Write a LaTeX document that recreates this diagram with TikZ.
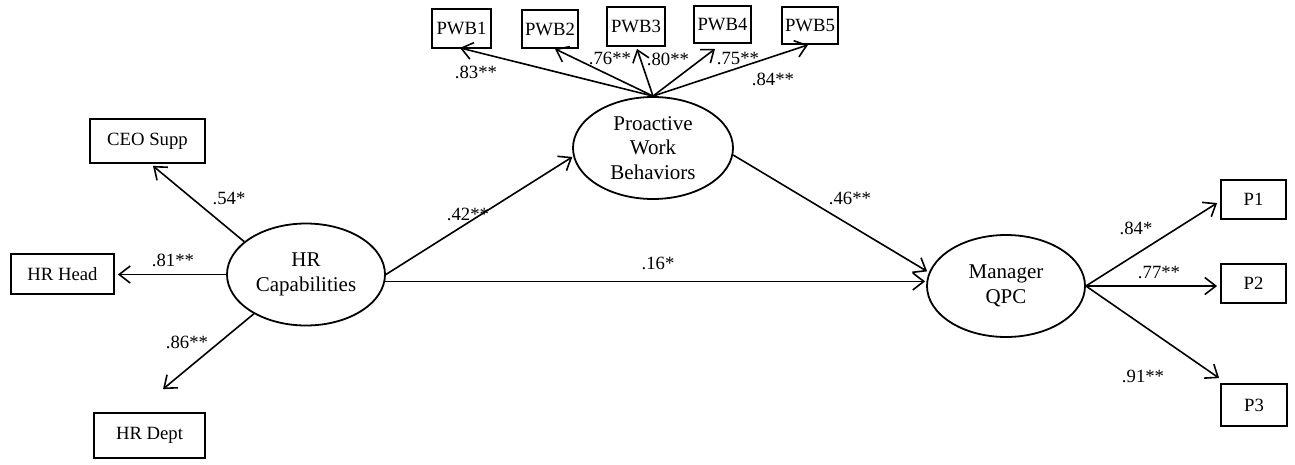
\documentclass[tikz,border=0pt]{standalone}
\usepackage{fontspec}
\setmainfont{Liberation Serif}
\usetikzlibrary{arrows.meta,shapes.geometric,calc}
\begin{document}
\begin{tikzpicture}[x=1pt,y=-1pt,
  every node/.style={font=\fontsize{18.7}{22}\selectfont, text=black},
  obs/.style={draw, line width=1.8pt, inner sep=0pt},
  lat/.style={draw, ellipse, line width=1.8pt, minimum width=158pt, minimum height=102pt, inner sep=0pt, align=center, font=\fontsize{21}{24.5}\selectfont},
  arr/.style={line width=1.6pt, -{Straight Barb[length=11pt,width=17pt,line width=1.6pt]}},
  lbl/.style={inner sep=0pt}
]
\useasboundingbox[fill=white] (0,0) rectangle (1295,464);

% latent variables
\node[lat] (hr) at (306,274.5) {HR\\Capabilities};
\node[lat, minimum width=160pt] (pw) at (653,148) {Proactive\\Work\\Behaviors};
\node[lat] (mg) at (1006,286) {Manager\\QPC};

% indicators
\node[obs, minimum width=115pt, minimum height=44pt] (ceo) at (147.5,141) {CEO Supp};
\node[obs, minimum width=103pt, minimum height=40pt] (hd) at (62.5,274) {HR Head};
\node[obs, minimum width=111pt, minimum height=45pt] (dp) at (149.5,435.5) {HR Dept};

\node[obs, minimum width=59pt, minimum height=39pt] (w1) at (461.5,28.5) {PWB1};
\node[obs, minimum width=56pt, minimum height=38pt] (w2) at (550,29) {PWB2};
\node[obs, minimum width=58pt, minimum height=39pt] (w3) at (636,26.5) {PWB3};
\node[obs, minimum width=57pt, minimum height=37pt] (w4) at (722.5,24.5) {PWB4};
\node[obs, minimum width=56pt, minimum height=37pt] (w5) at (810,25.5) {PWB5};

\node[obs, minimum width=65pt, minimum height=39pt] (q1) at (1253.5,199.5) {P1};
\node[obs, minimum width=65pt, minimum height=39pt] (q2) at (1253.5,283.5) {P2};
\node[obs, minimum width=66pt, minimum height=42pt] (q3) at (1254,405) {P3};

% HR loadings
\draw[arr] (hr.152.7) -- ($(ceo.south)+(5.5,2)$);
\draw[arr, shorten >=3pt] (hr.west) -- (hr.west -| hd.east);
\draw[arr] (hr.217.4) -- ($(dp.north)+(13.5,-23)$);

% PWB loadings
\draw[arr] (pw.north) -- ($(w1.south)+(-1.5,-1)$);
\draw[arr] (pw.north) -- ($(w2.south)+(5,0)$);
\draw[arr] (pw.north) -- ($(w3.south)+(1,2)$);
\draw[arr] (pw.north) -- ($(w4.south)+(-7.5,5)$);
\draw[arr] (pw.north) -- ($(w5.south)+(-2,0)$);

% Manager loadings
\draw[arr] (mg.east) -- ($(q1.west)+(-3,3.5)$);
\draw[arr, shorten >=3pt] (mg.east) -- (mg.east -| q2.west);
\draw[arr] (mg.east) -- ($(q3.north west)+(-1,-5)$);

% structural paths
\draw[arr, shorten >=1pt] (hr.east) -- (pw.186.5);
\draw[arr, shorten >=1pt] (hr.-5.5) -- (hr.-5.5 -| mg.west);
\draw[arr, shorten >=2pt] (pw.-5) -- (mg.170.7);

% labels
\node[lbl] (l1) at (229,198) {.54*};
\node[lbl] (l2) at (173,260) {.81**};
\node[lbl] (l3) at (187,342) {.86**};
\node[lbl] (l4) at (476,72) {.83**};
\node[lbl] (l5) at (610,58) {.76**};
\node[lbl] (l6) at (668,59) {.80**};
\node[lbl] (l7) at (738,59) {.75**};
\node[lbl] (l8) at (773,79) {.84**};
\node[lbl] (l9) at (468,214) {.42**};
\node[lbl] (l10) at (658,263) {.16*};
\node[lbl] (l11) at (850,198) {.46**};
\node[lbl] (l12) at (1136,228) {.84*};
\node[lbl] (l13) at (1159,273) {.77**};
\node[lbl] (l14) at (1143,376) {.91**};
\end{tikzpicture}
\end{document}
